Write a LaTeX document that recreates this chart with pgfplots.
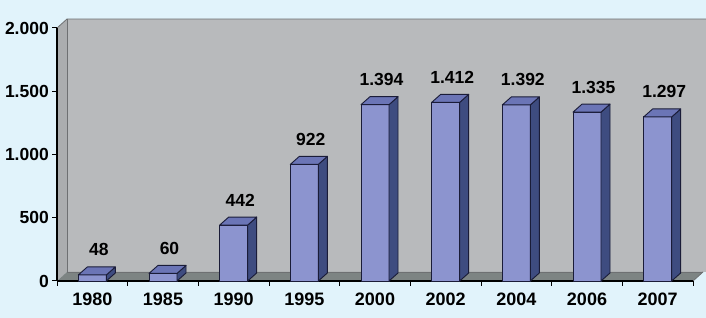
\documentclass[border=0pt]{standalone}
\usepackage{fontspec}
\setmainfont{Liberation Sans}
\usepackage{pgfplots}
\pgfplotsset{compat=1.18}
\usepackage{pgfplotstable}
\definecolor{bgc}{HTML}{E1F3FB}
\definecolor{wallc}{HTML}{B8BABC}
\definecolor{lwallc}{HTML}{ABADAF}
\definecolor{floorc}{HTML}{7D8483}
\definecolor{wedge}{HTML}{6E7072}
\definecolor{frontc}{HTML}{8C94CF}
\definecolor{sidec}{HTML}{3E4C80}
\definecolor{topc}{HTML}{6B75B6}
\definecolor{edgec}{HTML}{1A1C38}

\pgfplotstableread{
x y
0.5 48
1.5 60
2.5 442
3.5 922
4.5 1394
5.5 1412
6.5 1392
7.5 1335
8.5 1297
}\datatable

\pgfdeclareplotmark{prism}{%
  \pgfmathsetlengthmacro\hh{\rawy*0.1265pt}%
  \filldraw[fill=sidec,draw=edgec,line width=0.9pt,line join=round]
    (14pt,0pt) -- (23pt,8pt) -- (23pt,8pt-\hh) -- (14pt,-\hh) -- cycle;
  \filldraw[fill=topc,draw=edgec,line width=0.9pt,line join=round]
    (-14pt,0pt) -- (14pt,0pt) -- (23pt,8pt) -- (-5pt,8pt) -- cycle;
}

\begin{document}
\begin{tikzpicture}
\useasboundingbox (0,0) rectangle (706pt,318pt);
\fill[bgc] (0,0) rectangle (706pt,318pt);
% back wall, side wall, floor
\fill[wallc] (67pt,46pt) rectangle (712pt,299pt);
\fill[lwallc] (57pt,37pt) -- (67pt,46pt) -- (67pt,299pt) -- (57pt,290pt) -- cycle;
\fill[floorc] (57pt,37pt) -- (693pt,37pt) -- (703pt,46pt) -- (67pt,46pt) -- cycle;
\draw[wedge,line width=0.8pt] (57pt,290pt) -- (67pt,299pt) -- (712pt,299pt);
\draw[wedge,line width=0.8pt] (67pt,299pt) -- (67pt,46pt) -- (703pt,46pt);
\draw[wedge,line width=0.8pt] (693pt,37pt) -- (703pt,46pt);
\begin{axis}[
  at={(57pt,37pt)}, anchor=origin,
  x=70.667pt, y=0.1265pt,
  xmin=0, xmax=9, ymin=0, ymax=2000,
  axis x line*=bottom, axis y line*=left,
  axis line style={black, line width=1.2pt, -},
  tick style={black, line width=1pt},
  tick align=outside, major tick length=5pt,
  xtick={0,...,9}, xticklabels={},
  extra x ticks={0.5,1.5,...,8.5},
  extra x tick labels={1980,1985,1990,1995,2000,2002,2004,2006,2007},
  extra x tick style={major tick length=0pt, tick label style={font=\fontsize{18}{18}\selectfont\bfseries, anchor=north, inner sep=0pt, yshift=-12pt}},
  ytick={0,500,...,2000},
  yticklabel style={anchor=east, inner sep=0pt, xshift=-3pt},
  scaled y ticks=false,
  /pgf/number format/.cd, 1000 sep={.}, assume math mode=true, /pgfplots/.cd,
  tick label style={font=\fontsize{17.5}{17.5}\selectfont\bfseries, text=black},
  clip=false,
]
\addplot[ybar, bar width=28pt, fill=frontc, draw=edgec, line width=0.9pt,
  nodes near coords,
  every node near coord/.append style={font=\fontsize{17.5}{17.5}\selectfont\bfseries, text=black, anchor=base, inner sep=0pt, xshift=6.5pt, yshift=19pt}]
  table[x=x,y=y]{\datatable};
\addplot[only marks, mark=prism, visualization depends on={\thisrow{y} \as \rawy}]
  table[x=x,y=y]{\datatable};
\end{axis}
\end{tikzpicture}
\end{document}
